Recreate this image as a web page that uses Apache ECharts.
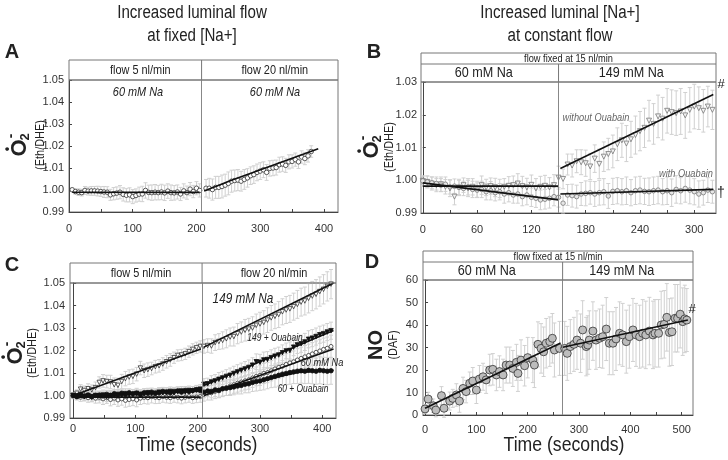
<!DOCTYPE html>
<html>
<head>
<meta charset="utf-8">
<script src="https://cdn.jsdelivr.net/npm/echarts@6/dist/echarts.min.js"></script>
<style>
  html, body { margin: 0; padding: 0; background: #fff; }
  #main { width: 728px; height: 460px; }
</style>
</head>
<body>
<div id="main"></div>
<script>
const FONT = '"Liberation Sans", Arial, sans-serif';

// ---- panel A : flow 5 -> 20 nl/min, 60 mM Na ----
const timeA = [5,10,15,20,25,30,35,40,45,50,55,60,65,70,75,80,85,90,95,100,105,110,115,120,125,130,135,140,145,150,155,160,165,170,175,180,185,190,195,200,205,
  215,220,225,230,235,240,245,250,255,260,265,270,275,280,285,290,295,300,305,310,315,320,325,330,335,340,345,350,355,360,365,370,375,380];
const o2A = [1.0001,0.9993,0.9990,0.9988,0.9998,0.9995,0.9996,0.9996,0.9995,0.9993,
  0.9991,0.9990,0.9978,0.9983,0.9986,0.9990,0.9980,0.9976,0.9978,0.9970,
  0.9975,0.9981,0.9982,0.9998,0.9989,0.9988,0.9990,0.9988,0.9991,0.9987,
  0.9995,0.9988,0.9987,0.9991,0.9982,0.9996,0.9988,1.0004,0.9993,1.0008,0.9998,
  1.0008,1.0008,1.0002,1.0012,1.0012,1.0016,1.0022,1.0030,1.0040,1.0043,
  1.0045,1.0040,1.0048,1.0055,1.0065,1.0070,1.0080,1.0086,1.0092,1.0080,
  1.0098,1.0100,1.0102,1.0115,1.0118,1.0112,1.0128,1.0130,1.0138,1.0128,
  1.0150,1.0143,1.0155,1.0175];
const errA = [0.0008,0.0012,0.0015,0.0015,0.0018,0.0018,0.0020,0.0020,0.0022,0.0022,
  0.0025,0.0025,0.0025,0.0028,0.0028,0.0030,0.0030,0.0030,0.0032,0.0032,
  0.0030,0.0032,0.0035,0.0035,0.0033,0.0035,0.0035,0.0033,0.0035,0.0035,
  0.0033,0.0035,0.0033,0.0032,0.0030,0.0032,0.0030,0.0030,0.0028,0.0030,0.0030,
  0.0040,0.0045,0.0048,0.0050,0.0050,0.0052,0.0050,0.0052,0.0050,0.0048,
  0.0048,0.0045,0.0045,0.0042,0.0040,0.0040,0.0038,0.0038,0.0036,0.0036,
  0.0035,0.0035,0.0034,0.0034,0.0033,0.0032,0.0032,0.0030,0.0030,0.0030,
  0.0028,0.0028,0.0028,0.0026];
const fitA1 = [[5,0.9990],[205,0.9989]];
const fitA2 = [[212,0.9995],[256,1.0045],[308,1.0100],[391,1.0187]];
const divA = 208;

// ---- panel B : 60 -> 149 mM Na at 15 nl/min ----
const timeB = [0,5,10,15,20,25,30,35,40,45,50,55,60,65,70,75,80,85,90,95,100,105,110,115,120,125,130,135,140,145,150,
  155,160,165,170,175,180,185,190,195,200,205,210,215,220,225,230,235,240,245,250,255,260,265,270,275,280,285,290,295,300,305,310,315,320];
const noOuabB = [0.9998,0.9995,0.9990,0.9985,0.9988,0.9980,0.9975,0.9950,0.9978,0.9985,
  0.9975,0.9980,0.9972,0.9985,0.9978,0.9982,0.9978,0.9975,0.9980,0.9983,
  0.9985,0.9990,0.9982,0.9978,0.9986,0.9975,0.9980,0.9983,0.9978,0.9985,1.0008,
  1.0004,1.0048,1.0045,1.0058,1.0055,1.0052,1.0042,1.0066,1.0050,1.0072,
  1.0080,1.0088,1.0110,1.0122,1.0112,1.0125,1.0138,1.0150,1.0160,1.0182,
  1.0172,1.0195,1.0188,1.0212,1.0208,1.0205,1.0210,1.0198,1.0215,1.0225,
  1.0220,1.0212,1.0225,1.0215];
const withOuabB = [0.9998,0.9995,0.9992,0.9990,0.9985,0.9988,0.9980,0.9982,0.9978,0.9975,
  0.9980,0.9972,0.9970,0.9972,0.9965,0.9968,0.9962,0.9965,0.9958,0.9962,
  0.9955,0.9958,0.9950,0.9955,0.9948,0.9945,0.9940,0.9942,0.9945,0.9950,0.9948,
  0.9930,0.9955,0.9953,0.9950,0.9958,0.9960,0.9962,0.9958,0.9962,0.9965,
  0.9952,0.9966,0.9968,0.9965,0.9968,0.9962,0.9968,0.9970,0.9966,0.9965,
  0.9968,0.9970,0.9965,0.9968,0.9962,0.9972,0.9968,0.9975,0.9970,0.9965,
  0.9958,0.9962,0.9970,0.9965];
const errNoB = [0.0015,0.0018,0.0020,0.0020,0.0022,0.0022,0.0025,0.0025,0.0022,0.0022,
  0.0025,0.0025,0.0025,0.0028,0.0025,0.0025,0.0028,0.0028,0.0025,0.0028,
  0.0028,0.0030,0.0030,0.0028,0.0030,0.0030,0.0032,0.0032,0.0030,0.0032,0.0035,
  0.0030,0.0032,0.0035,0.0035,0.0038,0.0040,0.0040,0.0042,0.0045,0.0045,
  0.0048,0.0050,0.0050,0.0052,0.0055,0.0055,0.0058,0.0060,0.0060,0.0062,
  0.0062,0.0065,0.0065,0.0068,0.0068,0.0068,0.0070,0.0070,0.0068,0.0068,
  0.0065,0.0065,0.0062,0.0060];
const errWithB = [0.0015,0.0018,0.0018,0.0020,0.0020,0.0022,0.0022,0.0022,0.0025,0.0022,
  0.0025,0.0025,0.0022,0.0025,0.0025,0.0028,0.0025,0.0025,0.0028,0.0028,
  0.0025,0.0028,0.0028,0.0030,0.0028,0.0028,0.0030,0.0030,0.0030,0.0028,0.0030,
  0.0030,0.0032,0.0035,0.0035,0.0035,0.0038,0.0035,0.0038,0.0038,0.0040,
  0.0038,0.0040,0.0040,0.0040,0.0042,0.0040,0.0042,0.0042,0.0040,0.0042,
  0.0042,0.0042,0.0040,0.0042,0.0042,0.0042,0.0040,0.0042,0.0042,0.0040,
  0.0040,0.0038,0.0038,0.0035];
const fitNoB1 = [[0,0.9982],[150,0.9982]];
const fitNoB2 = [[152,1.0036],[321,1.0262]];
const fitWithB1 = [[0,0.9992],[150,0.9940]];
const fitWithB2 = [[152,0.9958],[321,0.9972]];
const divB = 150;

// ---- panel C : flow 5 -> 20 nl/min, four conditions ----
const timeC = [0,6,12,18,24,30,36,42,48,54,60,66,72,78,84,90,96,102,108,114,120,126,132,138,144,150,156,162,168,174,180,186,192,198,204,
  210,216,222,228,234,240,246,252,258,264,270,276,282,288,294,300,306,312,318,324,330,336,342,348,354,360,366,372,378,384,390,396,402,408,414];
const na149C = [1.0000,1.0010,1.0028,1.0022,1.0030,1.0025,1.0035,1.0058,1.0065,1.0062,
  1.0060,1.0048,1.0045,1.0062,1.0075,1.0082,1.0085,1.0095,1.0122,1.0110,
  1.0115,1.0120,1.0128,1.0132,1.0140,1.0150,1.0158,1.0168,1.0178,1.0180,
  1.0185,1.0195,1.0205,1.0212,1.0218,
  1.0218,1.0222,1.0220,1.0235,1.0240,1.0245,1.0252,1.0260,1.0262,1.0275,
  1.0282,1.0290,1.0295,1.0300,1.0312,1.0318,1.0325,1.0335,1.0345,1.0352,
  1.0360,1.0372,1.0380,1.0385,1.0395,1.0405,1.0415,1.0420,1.0432,1.0442,
  1.0450,1.0462,1.0472,1.0485,1.0495];
const na149OuabC = [1.0000,0.9998,1.0002,0.9995,1.0000,0.9992,1.0000,0.9998,1.0002,0.9995,
  1.0000,0.9998,1.0005,1.0000,1.0008,1.0002,1.0005,1.0010,1.0005,1.0008,
  1.0012,1.0008,1.0010,1.0015,1.0012,1.0015,1.0018,1.0012,1.0018,1.0020,
  1.0015,1.0022,1.0020,1.0025,1.0028,
  1.0050,1.0052,1.0060,1.0065,1.0072,1.0078,1.0085,1.0090,1.0098,1.0105,
  1.0112,1.0118,1.0125,1.0135,1.0150,1.0148,1.0158,1.0160,1.0168,1.0175,
  1.0180,1.0190,1.0198,1.0200,1.0215,1.0225,1.0230,1.0238,1.0250,1.0255,
  1.0262,1.0270,1.0275,1.0282,1.0288];
const na60C = [0.9998,0.9995,0.9992,0.9996,0.9990,0.9995,0.9988,0.9992,0.9985,0.9990,
  0.9982,0.9988,0.9980,0.9985,0.9978,0.9982,0.9985,0.9980,0.9988,0.9992,
  0.9990,0.9995,0.9992,0.9990,0.9995,0.9992,0.9990,0.9995,0.9992,0.9988,
  0.9992,0.9995,0.9990,0.9993,0.9995,
  1.0005,1.0010,1.0012,1.0018,1.0025,1.0030,1.0035,1.0042,1.0048,1.0055,
  1.0060,1.0065,1.0070,1.0078,1.0085,1.0090,1.0098,1.0102,1.0110,1.0118,
  1.0125,1.0130,1.0138,1.0145,1.0150,1.0158,1.0165,1.0172,1.0178,1.0185,
  1.0192,1.0198,1.0205,1.0210,1.0218];
const na60OuabC = [1.0000,0.9995,1.0000,0.9998,1.0002,0.9995,1.0000,1.0002,0.9998,1.0005,
  1.0000,1.0008,1.0002,1.0010,1.0005,1.0012,1.0008,1.0010,1.0005,1.0012,
  1.0010,1.0015,1.0010,1.0012,1.0018,1.0015,1.0012,1.0018,1.0020,1.0015,
  1.0022,1.0018,1.0022,1.0025,1.0022,
  1.0015,1.0020,1.0018,1.0025,1.0022,1.0030,1.0032,1.0035,1.0038,1.0042,
  1.0045,1.0050,1.0052,1.0058,1.0062,1.0065,1.0070,1.0075,1.0080,1.0085,
  1.0090,1.0095,1.0098,1.0102,1.0105,1.0108,1.0110,1.0108,1.0112,1.0110,
  1.0108,1.0112,1.0110,1.0108,1.0110];
const err149C = [0.0010,0.0015,0.0020,0.0020,0.0022,0.0022,0.0025,0.0025,0.0028,0.0028,
  0.0030,0.0030,0.0032,0.0032,0.0032,0.0032,0.0032,0.0030,0.0030,0.0030,
  0.0030,0.0028,0.0028,0.0028,0.0028,0.0028,0.0028,0.0025,0.0025,0.0025,
  0.0025,0.0025,0.0025,0.0025,0.0025,
  0.0030,0.0030,0.0032,0.0035,0.0035,0.0038,0.0040,0.0040,0.0042,0.0045,
  0.0045,0.0048,0.0048,0.0050,0.0050,0.0052,0.0052,0.0055,0.0055,0.0055,
  0.0058,0.0058,0.0060,0.0060,0.0060,0.0062,0.0062,0.0062,0.0065,0.0065,
  0.0065,0.0065,0.0065,0.0065,0.0065];
const err149OuabC = [0.0012,0.0015,0.0015,0.0018,0.0018,0.0020,0.0020,0.0020,0.0022,0.0022,
  0.0022,0.0022,0.0022,0.0022,0.0022,0.0022,0.0022,0.0022,0.0022,0.0022,
  0.0020,0.0020,0.0020,0.0020,0.0020,0.0020,0.0020,0.0020,0.0020,0.0020,
  0.0020,0.0020,0.0020,0.0020,0.0020,
  0.0025,0.0025,0.0028,0.0028,0.0030,0.0030,0.0030,0.0032,0.0032,0.0032,
  0.0032,0.0033,0.0033,0.0033,0.0035,0.0035,0.0035,0.0035,0.0035,0.0035,
  0.0035,0.0035,0.0035,0.0038,0.0038,0.0038,0.0038,0.0038,0.0038,0.0038,
  0.0038,0.0038,0.0038,0.0038,0.0038];
const err60C = [0.0012,0.0015,0.0018,0.0020,0.0020,0.0022,0.0022,0.0025,0.0025,0.0025,
  0.0028,0.0028,0.0028,0.0028,0.0030,0.0030,0.0030,0.0030,0.0028,0.0028,
  0.0028,0.0028,0.0028,0.0025,0.0025,0.0025,0.0025,0.0025,0.0025,0.0025,
  0.0025,0.0025,0.0025,0.0025,0.0025,
  0.0030,0.0030,0.0032,0.0032,0.0035,0.0035,0.0035,0.0038,0.0038,0.0040,
  0.0040,0.0040,0.0042,0.0042,0.0042,0.0045,0.0045,0.0045,0.0045,0.0045,
  0.0048,0.0048,0.0048,0.0048,0.0048,0.0050,0.0050,0.0050,0.0050,0.0050,
  0.0050,0.0050,0.0050,0.0050,0.0050];
const err60OuabC = [0.0010,0.0012,0.0012,0.0015,0.0015,0.0015,0.0015,0.0018,0.0018,0.0018,
  0.0018,0.0018,0.0018,0.0018,0.0018,0.0018,0.0018,0.0018,0.0018,0.0018,
  0.0018,0.0018,0.0018,0.0018,0.0018,0.0018,0.0018,0.0018,0.0018,0.0018,
  0.0018,0.0018,0.0018,0.0018,0.0018,
  0.0025,0.0025,0.0028,0.0030,0.0030,0.0032,0.0032,0.0035,0.0035,0.0035,
  0.0038,0.0038,0.0040,0.0040,0.0042,0.0042,0.0045,0.0045,0.0045,0.0048,
  0.0048,0.0050,0.0050,0.0052,0.0052,0.0055,0.0055,0.0055,0.0058,0.0058,
  0.0058,0.0060,0.0060,0.0060,0.0060];
const fit149C1 = [[0,1.0000],[205,1.0207]];
const fit149C2 = [[210,1.0215],[418,1.0500]];
const fit149OC1 = [[0,0.9998],[205,1.0022]];
const fit149OC2 = [[210,1.0044],[418,1.0289]];
const fit60C1 = [[0,0.9993],[205,0.9993]];
const fit60C2 = [[210,1.0000],[418,1.0207]];
const fit60OC1 = [[0,0.9998],[205,1.0020]];
const fit60OC2 = [[210,1.0015],[300,1.0065],[360,1.0102],[418,1.0112]];
const divC = 207;

// ---- panel D : NO (DAF) ----
const timeD = [0,6,16,21,32,37,48,54,61,67,74,80,87,93,100,106,113,119,126,132,
  139,145,152,158,165,171,178,181,187,194,200,210,213,220,226,231,236,243,248,252,262,
  272,277,283,290,296,303,307,314,317,320,327,333,340,346,353,359,366,372,379,385,
  392,398,405,411,418,424,430,437,444,448,455,460,466,471,476,481,487,492,497,502,506,510];
const noD = [2.7,7.1,4.1,2.2,8.6,3.0,6.2,7.4,8.9,6.2,11.8,10.4,14.1,15.1,11.1,16.0,17.0,15.6,20.0,20.3,
  17.8,19.3,17.8,22.2,22.2,20.7,23.4,18.5,24.4,21.9,25.5,24.4,22.2,31.4,29.6,28.1,31.9,32.6,34.1,28.9,29.6,
  29.6,27.4,30.4,31.4,33.3,31.9,37.8,30.4,31.1,33.3,37.3,33.3,34.1,34.8,38.2,31.9,31.9,33.8,36.3,35.6,
  32.6,34.8,37.8,35.6,34.8,36.3,35.6,37.3,35.6,36.3,36.3,40.0,40.3,43.4,36.7,37.0,43.0,43.0,44.8,41.5,42.7,42.2];
const errD = [2,3,3,3,4,4,4,4,5,5,5,5,5,6,6,6,6,6,7,7,
  7,7,7,8,8,8,8,8,9,9,9,10,10,10,11,11,11,11,11,12,12,
  12,12,12,12,13,13,13,13,13,13,13,13,13,14,14,14,14,14,14,14,
  14,14,14,14,14,15,15,15,15,15,15,15,15,15,15,15,15,15,15,15,15,14];
const fitD1 = [[0,3.0],[264,32.0]];
const fitD2 = [[266,30.0],[512,42.2]];
const divD = 268;

// axis tick labels
const ticksA = [0,50,100,150,200,250,300,350,400];
const labelsA = [0,100,200,300,400];
const ticksB = [0,30,60,90,120,150,180,210,240,270,300];
const labelsB = [0,60,120,180,240,300];
const labelsD = [0,100,200,300,400,500];
const ticksD = [0,50,100,150,200,250,300,350,400,450,500];

// plot rectangles
const grids = [
  { left: 69, top: 80, width: 269, height: 132 },
  { left: 421, top: 82, width: 295, height: 131 },
  { left: 70, top: 283, width: 266, height: 135 },
  { left: 423, top: 280, width: 270, height: 135 }
];

const pairs = (t, v) => t.map((x, i) => [x, v[i]]);

function errBars(gi, t, v, e, color) {
  return {
    type: 'custom', xAxisIndex: gi, yAxisIndex: gi, silent: true, z: 1,
    data: t.map((x, i) => [x, v[i], e[i]]),
    renderItem: (params, api) => {
      const x = api.value(0), y = api.value(1), d = api.value(2);
      const hi = api.coord([x, y + d]);
      const lo = api.coord([x, y - d]);
      const s = { stroke: color, lineWidth: 1 };
      return { type: 'group', children: [
        { type: 'line', shape: { x1: hi[0], y1: hi[1], x2: lo[0], y2: lo[1] }, style: s },
        { type: 'line', shape: { x1: hi[0] - 2, y1: hi[1], x2: hi[0] + 2, y2: hi[1] }, style: s },
        { type: 'line', shape: { x1: lo[0] - 2, y1: lo[1], x2: lo[0] + 2, y2: lo[1] }, style: s }
      ]};
    }
  };
}

function dots(gi, t, v, symbol, size, fill, edge, rotate) {
  return {
    type: 'scatter', xAxisIndex: gi, yAxisIndex: gi, silent: true, z: 3,
    data: pairs(t, v), symbol: symbol, symbolSize: size, symbolRotate: rotate || 0,
    itemStyle: { color: fill, borderColor: edge, borderWidth: 0.8, opacity: 1 }
  };
}

function fit(gi, d, div) {
  const s = {
    type: 'line', xAxisIndex: gi, yAxisIndex: gi, silent: true, z: 4,
    data: d, symbol: 'none', lineStyle: { color: '#111', width: 1.6 }
  };
  if (div !== undefined) {
    s.markLine = {
      silent: true, symbol: 'none', label: { show: false },
      lineStyle: { color: '#888', width: 1, type: 'solid' },
      data: [{ xAxis: div }]
    };
  }
  return s;
}

function xAx(gi, min, max, labels, ticks, gap) {
  return {
    type: 'value', gridIndex: gi, min: min, max: max,
    axisLine: { lineStyle: { color: '#444' } },
    axisTick: { inside: true, length: 3, customValues: ticks, lineStyle: { color: '#444' } },
    axisLabel: { customValues: labels, color: '#333', fontSize: 11, margin: gap, fontFamily: FONT },
    splitLine: { show: false }
  };
}

function yAx(gi, min, max, step, digits, gap) {
  return {
    type: 'value', gridIndex: gi, min: min, max: max, interval: step,
    axisLine: { show: true, lineStyle: { color: '#444' } },
    axisTick: { show: true, inside: true, length: 3, lineStyle: { color: '#444' } },
    axisLabel: { color: '#333', fontSize: 11, margin: gap, fontFamily: FONT,
      formatter: v => v.toFixed(digits) },
    splitLine: { show: false }
  };
}

const option = {
  animation: false,
  backgroundColor: '#fff',
  textStyle: { fontFamily: FONT },
  grid: grids.map(g => Object.assign({ show: true, borderColor: '#777', borderWidth: 1 }, g)),
  xAxis: [
    xAx(0, 0, 422, labelsA, ticksA, 11),
    xAx(1, -2, 324, labelsB, ticksB, 11),
    xAx(2, -5, 422, labelsA, ticksA, 5),
    xAx(3, -4, 522, labelsD, ticksD, 9)
  ],
  yAxis: [
    yAx(0, 0.99, 1.05, 0.01, 2, 5),
    yAx(1, 0.99, 1.03, 0.01, 2, 4),
    yAx(2, 0.99, 1.05, 0.01, 2, 5),
    yAx(3, 0, 60, 10, 0, 5)
  ],
  series: [
    errBars(0, timeA, o2A, errA, '#d0d0d0'),
    dots(0, timeA, o2A, 'circle', 4.5, '#fff', '#333'),
    fit(0, fitA1, divA), fit(0, fitA2),

    errBars(1, timeB, noOuabB, errNoB, '#d0d0d0'),
    errBars(1, timeB, withOuabB, errWithB, '#d0d0d0'),
    dots(1, timeB, noOuabB, 'triangle', 5, '#f2f2f2', '#777', 180),
    dots(1, timeB, withOuabB, 'circle', 4.5, '#e6e6e6', '#777'),
    fit(1, fitNoB1, divB), fit(1, fitNoB2), fit(1, fitWithB1), fit(1, fitWithB2),

    errBars(2, timeC, na149C, err149C, '#d0d0d0'),
    errBars(2, timeC, na60C, err60C, '#d0d0d0'),
    errBars(2, timeC, na149OuabC, err149OuabC, '#d0d0d0'),
    errBars(2, timeC, na60OuabC, err60OuabC, '#d0d0d0'),
    dots(2, timeC, na149C, 'triangle', 4.5, '#fff', '#333', 180),
    dots(2, timeC, na60C, 'circle', 4, '#fff', '#333'),
    dots(2, timeC, na149OuabC, 'triangle', 4.5, '#111', '#111', 180),
    dots(2, timeC, na60OuabC, 'circle', 4.5, '#111', '#111'),
    fit(2, fit149C1, divC), fit(2, fit149C2), fit(2, fit149OC1), fit(2, fit149OC2),
    fit(2, fit60C1), fit(2, fit60C2), fit(2, fit60OC1), fit(2, fit60OC2),

    errBars(3, timeD, noD, errD, '#d0d0d0'),
    dots(3, timeD, noD, 'circle', 8, '#bdbdbd', '#333'),
    fit(3, fitD1, divD), fit(3, fitD2)
  ]
};

const chart = echarts.init(document.getElementById('main'), null, { renderer: 'canvas' });
chart.setOption(option);

// ---- decorations: headers, titles, axis names ----
// narrow type is imitated by squeezing the text horizontally
const txt = (x, y, text, font, extra, sx) => ({
  type: 'text', x: x, y: y, z: 50, silent: true, scaleX: sx || 1,
  style: Object.assign({ text: text, font: font, fill: '#222', align: 'center', verticalAlign: 'middle' }, extra || {})
});
const ntxt = (x, y, text, font, extra) => txt(x, y, text, font, extra, 0.84);
const seg = (x1, y1, x2, y2) => ({
  type: 'line', silent: true, z: 40, shape: { x1: x1, y1: y1, x2: x2, y2: y2 },
  style: { stroke: '#777', lineWidth: 1 }
});
const box = (x, y, w, h) => ({
  type: 'rect', silent: true, z: 40, shape: { x: x, y: y, width: w, height: h },
  style: { fill: 'none', stroke: '#777', lineWidth: 1 }
});

function header1(gi, div, left, right) {
  const g = grids[gi];
  const dx = chart.convertToPixel({ xAxisIndex: gi }, div);
  const top = g.top - 20;
  return [
    box(g.left, top, g.width, 20),
    seg(dx, top, dx, g.top),
    ntxt((g.left + dx) / 2 + 5, top + 10, left, '13px ' + FONT),
    ntxt((dx + g.left + g.width) / 2 + 5, top + 10, right, '13px ' + FONT)
  ];
}

function header2(gi, div, topText, left, right) {
  const g = grids[gi];
  const dx = chart.convertToPixel({ xAxisIndex: gi }, div);
  const top = g.top - 29;
  return [
    box(g.left, top, g.width, 29),
    seg(g.left, top + 11, g.left + g.width, top + 11),
    seg(dx, top + 11, dx, g.top),
    ntxt(g.left + g.width / 2, top + 6, topText, '11px ' + FONT),
    ntxt((g.left + dx) / 2 - 6, top + 20, left, '15px ' + FONT),
    ntxt((dx + g.left + g.width) / 2 - 6, top + 20, right, '15px ' + FONT)
  ];
}

function o2Label(x, y, ex) {
  return {
    type: 'group', x: x, y: y, rotation: Math.PI / 2, silent: true, z: 50,
    children: [
      txt(0, 0, 'O', 'bold 22px Arial, sans-serif'),
      txt(-1, -12, '\u2022', 'bold 12px Arial, sans-serif'),
      txt(11, 5, '2', 'bold 13px Arial, sans-serif'),
      txt(12, -9, '-', 'bold 14px Arial, sans-serif'),
      ntxt(3, ex, '(Eth/DHE)', '13px ' + FONT)
    ]
  };
}

const italic = 'italic 13px ' + FONT;
const graphic = [].concat(
  [
    ntxt(192, 13, 'Increased luminal flow', '18px ' + FONT),
    ntxt(192, 36, 'at fixed [Na+]', '18px ' + FONT),
    ntxt(560, 13, 'Increased luminal [Na+]', '18px ' + FONT),
    ntxt(560, 36, 'at constant flow', '18px ' + FONT),
    txt(12, 52, 'A', 'bold 20px Arial, sans-serif'),
    txt(374, 52, 'B', 'bold 20px Arial, sans-serif'),
    txt(12, 265, 'C', 'bold 20px Arial, sans-serif'),
    txt(372, 262, 'D', 'bold 20px Arial, sans-serif'),
    o2Label(20, 148, 20),
    o2Label(372, 150, 17),
    o2Label(16, 356, 16),
    {
      type: 'group', x: 376, y: 345, rotation: Math.PI / 2, silent: true, z: 50,
      children: [
        txt(0, 0, 'NO', 'bold 20px Arial, sans-serif'),
        ntxt(0, 17, '(DAF)', '13px ' + FONT)
      ]
    },
    ntxt(197, 445, 'Time (seconds)', '21px ' + FONT),
    ntxt(564, 445, 'Time (seconds)', '21px ' + FONT),
    ntxt(138, 92, '60 mM Na', italic),
    ntxt(275, 92, '60 mM Na', italic),
    ntxt(596, 118, 'without Ouabain', 'italic 11px ' + FONT, { fill: '#666' }),
    ntxt(686, 174, 'with Ouabain', 'italic 11px ' + FONT, { fill: '#666' }),
    txt(721, 84, '#', '13px ' + FONT),
    txt(721, 193, '\u2020', '14px ' + FONT),
    ntxt(243, 299, '149 mM Na', 'italic 14px ' + FONT),
    ntxt(275, 338, '149 + Ouabain', 'italic 10px ' + FONT),
    ntxt(322, 363, '60 mM Na', 'italic 11px ' + FONT),
    ntxt(303, 389, '60 + Ouabain', 'italic 10px ' + FONT),
    txt(692, 309, '#', '13px ' + FONT)
  ],
  header1(0, divA, 'flow 5 nl/min', 'flow 20 nl/min'),
  header2(1, divB, 'flow fixed at 15 nl/min', '60 mM Na', '149 mM Na'),
  header1(2, divC, 'flow 5 nl/min', 'flow 20 nl/min'),
  header2(3, divD, 'flow fixed at 15 nl/min', '60 mM Na', '149 mM Na')
);
chart.setOption({ graphic: graphic });

window.addEventListener('resize', () => chart.resize());
</script>
</body>
</html>
